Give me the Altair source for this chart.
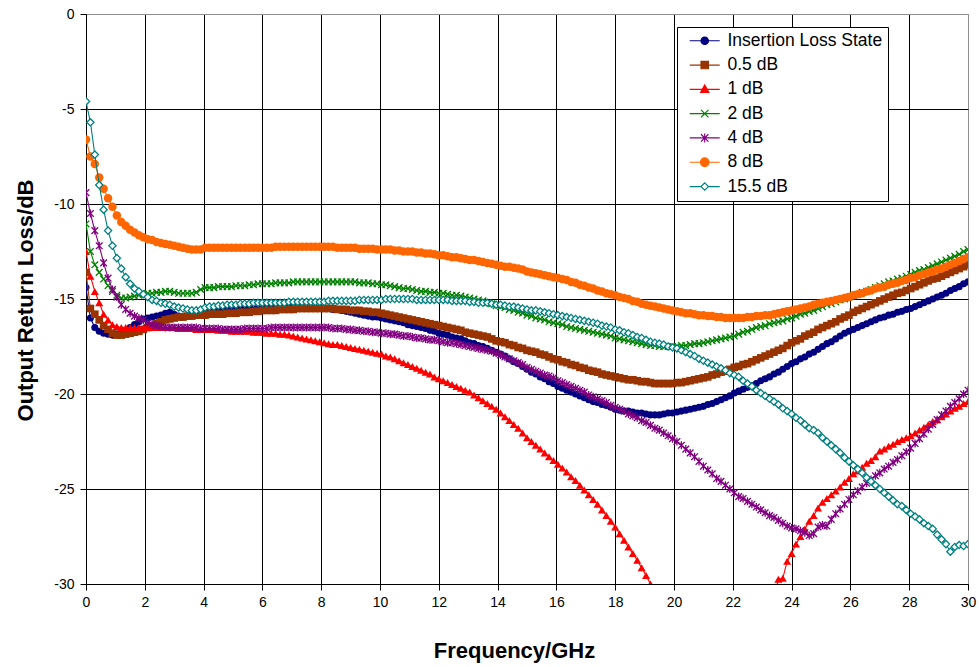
import altair as alt
import pandas as pd

# Frequency sweep (GHz), 0 to 30 in 0.15 GHz steps
freq = [round(0.15 * i, 2) for i in range(201)]

names = ["Insertion Loss State", "0.5 dB", "1 dB", "2 dB", "4 dB", "8 dB", "15.5 dB"]
colors = ["#000080", "#993300", "#FF0000", "#008000", "#800080", "#FF6600", "#008080"]

il_state = [
    -14.4, -16.0, -16.5, -16.7, -16.8, -16.85, -16.9, -16.85, -16.8, -16.65, -16.5, -16.35, -16.2, -16.05, -16.0, -15.95, -15.9, -15.85, -15.75, -15.7,
    -15.8, -15.9, -15.95, -15.9, -15.8, -15.75, -15.7, -15.65, -15.65, -15.6, -15.6, -15.55, -15.55, -15.5, -15.5, -15.5, -15.5, -15.5, -15.5, -15.5,
    -15.5, -15.45, -15.45, -15.45, -15.4, -15.4, -15.4, -15.4, -15.4, -15.45, -15.45, -15.45, -15.5, -15.5, -15.5, -15.5, -15.55, -15.55, -15.6, -15.65,
    -15.7, -15.75, -15.8, -15.85, -15.9, -15.95, -15.95, -16.0, -16.05, -16.1, -16.15, -16.2, -16.25, -16.35, -16.4, -16.45, -16.5, -16.55, -16.65, -16.7,
    -16.8, -16.85, -16.9, -17.0, -17.05, -17.1, -17.2, -17.3, -17.35, -17.45, -17.5, -17.6, -17.7, -17.8, -17.9, -18.0, -18.15, -18.3, -18.4, -18.55,
    -18.7, -18.85, -18.95, -19.1, -19.2, -19.35, -19.45, -19.6, -19.7, -19.8, -19.9, -20.0, -20.1, -20.2, -20.3, -20.4, -20.45, -20.55, -20.6, -20.7,
    -20.8, -20.85, -20.9, -20.9, -20.95, -21.0, -21.0, -21.05, -21.1, -21.1, -21.1, -21.05, -21.0, -21.0, -20.95, -20.9, -20.85, -20.8, -20.75, -20.7,
    -20.65, -20.55, -20.5, -20.4, -20.3, -20.2, -20.1, -19.95, -19.85, -19.75, -19.65, -19.55, -19.45, -19.3, -19.2, -19.1, -18.95, -18.85, -18.7, -18.55,
    -18.4, -18.3, -18.15, -18.05, -17.9, -17.8, -17.65, -17.5, -17.35, -17.25, -17.1, -16.95, -16.8, -16.7, -16.6, -16.5, -16.4, -16.3, -16.2, -16.1,
    -16.0, -15.95, -15.85, -15.8, -15.7, -15.65, -15.55, -15.5, -15.4, -15.3, -15.2, -15.1, -15.0, -14.9, -14.8, -14.7, -14.55, -14.45, -14.35, -14.2,
    -14.1,
]

db_0_5 = [
    -13.6, -15.5, -15.8, -16.1, -16.4, -16.6, -16.8, -16.9, -16.9, -16.85, -16.8, -16.75, -16.7, -16.6, -16.5, -16.4, -16.3, -16.2, -16.1, -16.05,
    -16.0, -15.95, -15.95, -15.9, -15.9, -15.85, -15.85, -15.85, -15.8, -15.8, -15.8, -15.8, -15.75, -15.75, -15.75, -15.7, -15.7, -15.7, -15.65, -15.65,
    -15.6, -15.6, -15.6, -15.6, -15.55, -15.55, -15.55, -15.55, -15.5, -15.5, -15.5, -15.5, -15.5, -15.5, -15.5, -15.5, -15.5, -15.55, -15.55, -15.55,
    -15.6, -15.6, -15.6, -15.65, -15.65, -15.7, -15.7, -15.75, -15.8, -15.85, -15.9, -15.95, -16.0, -16.05, -16.1, -16.15, -16.2, -16.25, -16.3, -16.35,
    -16.4, -16.45, -16.5, -16.55, -16.6, -16.65, -16.75, -16.8, -16.85, -16.9, -16.95, -17.0, -17.1, -17.2, -17.25, -17.3, -17.4, -17.45, -17.55, -17.6,
    -17.7, -17.75, -17.8, -17.9, -17.95, -18.05, -18.15, -18.2, -18.3, -18.35, -18.45, -18.5, -18.6, -18.65, -18.75, -18.8, -18.85, -18.95, -19.0, -19.05,
    -19.1, -19.15, -19.2, -19.25, -19.25, -19.3, -19.35, -19.35, -19.4, -19.45, -19.45, -19.45, -19.45, -19.45, -19.4, -19.4, -19.35, -19.3, -19.25, -19.2,
    -19.15, -19.1, -19.0, -18.95, -18.85, -18.8, -18.7, -18.6, -18.55, -18.45, -18.4, -18.3, -18.2, -18.1, -18.0, -17.9, -17.8, -17.7, -17.6, -17.45,
    -17.3, -17.2, -17.1, -16.95, -16.85, -16.75, -16.6, -16.5, -16.4, -16.3, -16.2, -16.05, -15.95, -15.85, -15.7, -15.6, -15.5, -15.4, -15.3, -15.2,
    -15.1, -15.0, -14.9, -14.8, -14.7, -14.65, -14.55, -14.45, -14.35, -14.25, -14.15, -14.05, -13.95, -13.9, -13.8, -13.7, -13.6, -13.5, -13.4, -13.3,
    -13.2,
]

db_1 = [
    -12.5, -13.8, -14.6, -15.2, -15.8, -16.1, -16.35, -16.45, -16.5, -16.5, -16.5, -16.5, -16.5, -16.5, -16.5, -16.5, -16.5, -16.5, -16.5, -16.5,
    -16.5, -16.55, -16.55, -16.55, -16.55, -16.6, -16.6, -16.6, -16.6, -16.6, -16.65, -16.65, -16.65, -16.7, -16.7, -16.7, -16.7, -16.7, -16.75, -16.75,
    -16.75, -16.8, -16.8, -16.8, -16.85, -16.85, -16.9, -16.95, -17.0, -17.05, -17.1, -17.15, -17.2, -17.25, -17.3, -17.35, -17.4, -17.4, -17.45, -17.5,
    -17.55, -17.6, -17.65, -17.7, -17.75, -17.8, -17.85, -17.9, -18.0, -18.05, -18.15, -18.25, -18.35, -18.45, -18.55, -18.65, -18.75, -18.85, -18.95, -19.1,
    -19.2, -19.3, -19.4, -19.5, -19.6, -19.7, -19.8, -19.9, -20.05, -20.2, -20.35, -20.5, -20.65, -20.8, -21.0, -21.2, -21.4, -21.6, -21.8, -22.05,
    -22.3, -22.5, -22.7, -22.9, -23.1, -23.3, -23.5, -23.7, -23.9, -24.1, -24.35, -24.55, -24.8, -25.05, -25.3, -25.55, -25.8, -26.1, -26.4, -26.7,
    -27.0, -27.35, -27.7, -28.05, -28.4, -28.75, -29.15, -29.55, -30.0, -30.4, -30.8, -31.2, -31.6, -32.0, -32.4, -32.7, -33.0, -33.3, -33.6, -33.9,
    -34.0, -34.1, -34.2, -34.2, -34.2, -34.1, -34.0, -33.8, -33.6, -33.4, -33.2, -33.0, -32.7, -32.4, -32.1, -31.6, -30.8, -29.75, -29.7, -28.8,
    -28.4, -27.9, -27.5, -27.1, -26.7, -26.4, -26.0, -25.7, -25.5, -25.3, -25.1, -24.9, -24.65, -24.45, -24.2, -24.05, -23.85, -23.65, -23.5, -23.3,
    -23.0, -22.9, -22.75, -22.65, -22.5, -22.4, -22.3, -22.2, -22.05, -21.9, -21.75, -21.6, -21.45, -21.35, -21.2, -21.05, -20.9, -20.75, -20.65, -20.5,
    -20.4,
]

db_2 = [
    -11.05, -12.5, -13.2, -13.6, -13.95, -14.3, -14.6, -14.8, -14.95, -14.95, -14.9, -14.85, -14.8, -14.75, -14.7, -14.7, -14.65, -14.65, -14.6, -14.6,
    -14.65, -14.7, -14.7, -14.7, -14.7, -14.65, -14.5, -14.4, -14.4, -14.4, -14.35, -14.35, -14.35, -14.35, -14.3, -14.3, -14.3, -14.25, -14.25, -14.2,
    -14.2, -14.2, -14.2, -14.15, -14.15, -14.15, -14.15, -14.1, -14.1, -14.1, -14.1, -14.1, -14.1, -14.1, -14.1, -14.1, -14.1, -14.1, -14.1, -14.1,
    -14.1, -14.1, -14.15, -14.15, -14.15, -14.2, -14.2, -14.25, -14.25, -14.3, -14.35, -14.4, -14.45, -14.45, -14.5, -14.55, -14.6, -14.6, -14.65, -14.65,
    -14.7, -14.7, -14.75, -14.8, -14.8, -14.85, -14.9, -14.95, -15.0, -15.05, -15.1, -15.2, -15.25, -15.35, -15.4, -15.45, -15.55, -15.6, -15.7, -15.75,
    -15.85, -15.9, -16.0, -16.05, -16.1, -16.2, -16.25, -16.3, -16.35, -16.45, -16.5, -16.55, -16.6, -16.65, -16.7, -16.75, -16.8, -16.85, -16.9, -16.95,
    -17.05, -17.1, -17.15, -17.2, -17.25, -17.3, -17.35, -17.4, -17.45, -17.45, -17.5, -17.5, -17.5, -17.5, -17.5, -17.45, -17.45, -17.4, -17.35, -17.35,
    -17.3, -17.25, -17.2, -17.15, -17.1, -17.05, -17.0, -16.95, -16.85, -16.75, -16.7, -16.6, -16.5, -16.45, -16.4, -16.3, -16.25, -16.2, -16.15, -16.05,
    -16.0, -15.9, -15.8, -15.75, -15.65, -15.6, -15.5, -15.4, -15.3, -15.25, -15.15, -15.05, -15.0, -14.9, -14.8, -14.75, -14.65, -14.6, -14.5, -14.4,
    -14.3, -14.2, -14.1, -14.05, -13.95, -13.9, -13.8, -13.7, -13.6, -13.5, -13.45, -13.35, -13.25, -13.15, -13.05, -12.95, -12.85, -12.75, -12.65, -12.5,
    -12.4,
]

db_4 = [
    -9.4, -10.5, -11.4, -12.2, -13.1, -13.9, -14.5, -14.9, -15.3, -15.55, -15.75, -15.9, -16.0, -16.1, -16.25, -16.35, -16.4, -16.45, -16.5, -16.5,
    -16.5, -16.5, -16.5, -16.5, -16.5, -16.5, -16.55, -16.55, -16.55, -16.55, -16.55, -16.6, -16.6, -16.6, -16.6, -16.6, -16.55, -16.55, -16.55, -16.55,
    -16.55, -16.55, -16.5, -16.5, -16.5, -16.5, -16.5, -16.5, -16.5, -16.5, -16.5, -16.5, -16.5, -16.5, -16.5, -16.5, -16.55, -16.55, -16.55, -16.6,
    -16.6, -16.65, -16.65, -16.7, -16.7, -16.75, -16.75, -16.8, -16.8, -16.85, -16.85, -16.9, -16.95, -16.95, -17.0, -17.05, -17.05, -17.1, -17.15, -17.15,
    -17.2, -17.25, -17.3, -17.3, -17.35, -17.4, -17.45, -17.5, -17.55, -17.6, -17.65, -17.7, -17.75, -17.85, -17.95, -18.05, -18.15, -18.25, -18.35, -18.45,
    -18.6, -18.7, -18.8, -18.9, -19.0, -19.05, -19.15, -19.3, -19.4, -19.5, -19.6, -19.7, -19.8, -19.9, -20.05, -20.15, -20.25, -20.35, -20.45, -20.6,
    -20.7, -20.8, -20.9, -21.05, -21.15, -21.25, -21.4, -21.5, -21.65, -21.8, -21.9, -22.05, -22.2, -22.35, -22.5, -22.7, -22.9, -23.1, -23.3, -23.55,
    -23.8, -24.0, -24.2, -24.45, -24.6, -24.8, -25.0, -25.2, -25.4, -25.5, -25.65, -25.8, -25.95, -26.1, -26.25, -26.4, -26.5, -26.65, -26.8, -26.95,
    -27.05, -27.1, -27.2, -27.3, -27.45, -27.35, -27.0, -26.9, -26.95, -26.6, -26.3, -26.05, -25.8, -25.55, -25.3, -25.1, -24.9, -24.7, -24.5, -24.3,
    -24.15, -23.95, -23.8, -23.6, -23.45, -23.25, -23.05, -22.85, -22.6, -22.35, -22.1, -21.85, -21.6, -21.35, -21.1, -20.9, -20.65, -20.45, -20.25, -20.0,
    -19.8,
]

db_8 = [
    -6.6, -7.5, -7.9, -8.6, -9.2, -9.7, -10.15, -10.6, -10.95, -11.15, -11.35, -11.5, -11.65, -11.75, -11.85, -11.9, -12.0, -12.05, -12.1, -12.15,
    -12.2, -12.25, -12.3, -12.35, -12.4, -12.4, -12.4, -12.3, -12.3, -12.3, -12.3, -12.3, -12.3, -12.3, -12.3, -12.3, -12.3, -12.3, -12.3, -12.3,
    -12.3, -12.3, -12.3, -12.25, -12.25, -12.25, -12.25, -12.25, -12.25, -12.25, -12.25, -12.25, -12.25, -12.25, -12.25, -12.25, -12.25, -12.3, -12.3, -12.3,
    -12.3, -12.3, -12.35, -12.35, -12.35, -12.35, -12.4, -12.4, -12.4, -12.4, -12.45, -12.45, -12.5, -12.5, -12.5, -12.55, -12.55, -12.6, -12.6, -12.65,
    -12.7, -12.7, -12.75, -12.8, -12.8, -12.85, -12.9, -12.95, -12.95, -13.0, -13.05, -13.1, -13.15, -13.2, -13.25, -13.3, -13.3, -13.35, -13.4, -13.45,
    -13.55, -13.6, -13.65, -13.7, -13.75, -13.8, -13.85, -13.9, -13.95, -14.0, -14.1, -14.15, -14.25, -14.3, -14.4, -14.45, -14.55, -14.6, -14.7, -14.75,
    -14.8, -14.9, -14.95, -15.0, -15.1, -15.15, -15.25, -15.3, -15.35, -15.4, -15.45, -15.5, -15.55, -15.6, -15.65, -15.7, -15.75, -15.75, -15.8, -15.85,
    -15.85, -15.9, -15.9, -15.95, -15.95, -16.0, -16.0, -16.0, -16.0, -16.0, -15.95, -15.95, -15.9, -15.9, -15.85, -15.85, -15.8, -15.75, -15.7, -15.65,
    -15.6, -15.55, -15.5, -15.45, -15.4, -15.3, -15.25, -15.2, -15.15, -15.1, -15.05, -15.0, -14.95, -14.9, -14.8, -14.75, -14.7, -14.6, -14.55, -14.45,
    -14.4, -14.35, -14.25, -14.2, -14.15, -14.05, -14.0, -13.9, -13.85, -13.75, -13.7, -13.6, -13.55, -13.45, -13.4, -13.3, -13.2, -13.1, -13.0, -12.9,
    -12.8,
]

db_15_5 = [
    -4.6, -5.7, -7.4, -9.0, -10.3, -11.4, -12.2, -12.85, -13.4, -13.85, -14.2, -14.45, -14.6, -14.75, -14.9, -15.05, -15.1, -15.2, -15.25, -15.3,
    -15.4, -15.45, -15.5, -15.55, -15.6, -15.6, -15.55, -15.45, -15.4, -15.4, -15.35, -15.35, -15.3, -15.3, -15.3, -15.25, -15.25, -15.25, -15.2, -15.2,
    -15.2, -15.2, -15.2, -15.2, -15.2, -15.2, -15.15, -15.15, -15.15, -15.15, -15.15, -15.15, -15.15, -15.15, -15.15, -15.1, -15.1, -15.1, -15.1, -15.1,
    -15.1, -15.1, -15.05, -15.05, -15.05, -15.05, -15.05, -15.05, -15.0, -15.0, -15.0, -15.0, -15.0, -15.0, -15.0, -15.05, -15.05, -15.05, -15.05, -15.05,
    -15.05, -15.05, -15.05, -15.1, -15.1, -15.1, -15.1, -15.15, -15.15, -15.2, -15.2, -15.2, -15.25, -15.3, -15.3, -15.35, -15.4, -15.4, -15.45, -15.5,
    -15.55, -15.6, -15.6, -15.65, -15.7, -15.75, -15.8, -15.85, -15.9, -15.95, -16.0, -16.05, -16.1, -16.15, -16.2, -16.25, -16.3, -16.4, -16.45, -16.5,
    -16.6, -16.65, -16.75, -16.8, -16.9, -17.0, -17.05, -17.15, -17.25, -17.3, -17.35, -17.4, -17.5, -17.55, -17.6, -17.7, -17.8, -17.9, -18.0, -18.15,
    -18.25, -18.35, -18.45, -18.55, -18.65, -18.75, -18.9, -19.0, -19.1, -19.3, -19.45, -19.6, -19.8, -19.95, -20.1, -20.25, -20.4, -20.55, -20.75, -20.9,
    -21.05, -21.25, -21.4, -21.6, -21.8, -21.9, -22.05, -22.3, -22.5, -22.7, -22.9, -23.1, -23.35, -23.55, -23.75, -23.95, -24.15, -24.4, -24.6, -24.8,
    -25.0, -25.2, -25.4, -25.6, -25.8, -25.9, -26.1, -26.3, -26.45, -26.6, -26.8, -26.95, -27.1, -27.4, -27.65, -27.9, -28.3, -28.05, -27.95, -28.0,
    -27.9,
]

series_values = [il_state, db_0_5, db_1, db_2, db_4, db_8, db_15_5]
for vals in series_values:
    assert len(vals) == len(freq)

rows = []
for name, vals in zip(names, series_values):
    for f, v in zip(freq, vals):
        rows.append({"f": f, "v": v, "s": name})
df = pd.DataFrame(rows)

FONT = "Liberation Sans"

x_enc = alt.X(
    "f:Q",
    scale=alt.Scale(domain=[0, 30], nice=False),
    axis=alt.Axis(
        values=list(range(0, 31, 2)),
        title="Frequency/GHz",
        titleFontSize=22, titleFontWeight="bold", titleFont=FONT, titleColor="black",
        titleX=428, titleY=73, titleAlign="center", titleBaseline="alphabetic",
        labelFontSize=14, labelFont=FONT, labelColor="black", labelPadding=5,
        labelFlush=False, labelOverlap=False,
        tickSize=6, tickColor="black", domainColor="black",
        grid=True, gridWidth=1,
        gridColor={"condition": {"test": "datum.value === 30", "value": "#909090"}, "value": "black"},
    ),
)
y_enc = alt.Y(
    "v:Q",
    scale=alt.Scale(domain=[-30, 0], nice=False),
    axis=alt.Axis(
        values=[-30, -25, -20, -15, -10, -5, 0],
        labelExpr="'' + datum.value",
        title="Output Return Loss/dB",
        titleFontSize=22, titleFontWeight="bold", titleFont=FONT, titleColor="black",
        titleAngle=270, titleX=-61, titleY=286, titleAlign="center", titleBaseline="middle",
        labelFontSize=14, labelFont=FONT, labelColor="black", labelPadding=6,
        labelFlush=False, labelOverlap=False,
        tickSize=6, tickColor="black", domainColor="black",
        grid=True, gridWidth=1,
        gridColor={"condition": {"test": "datum.value === 0", "value": "#909090"}, "value": "black"},
    ),
)

XPATH = "M-1,-1L1,1M-1,1L1,-1"
STARPATH = "M-1,-1L1,1M-1,1L1,-1M0,-1.2L0,1.2"

point_styles = [
    dict(shape="circle", size=50, filled=True, color=colors[0]),
    dict(shape="square", size=58, filled=True, color=colors[1]),
    dict(shape="triangle-up", size=65, filled=True, color=colors[2]),
    dict(shape=XPATH, size=44, filled=False, color=colors[3], strokeWidth=1.3),
    dict(shape=STARPATH, size=44, filled=False, color=colors[4], strokeWidth=1.3),
    dict(shape="circle", size=72, filled=True, color=colors[5]),
    dict(shape="diamond", size=52, filled=True, fill="white", stroke=colors[6], strokeWidth=1.3),
]

base = alt.Chart(df)
layers = []
for name, col, ps in zip(names, colors, point_styles):
    sub = base.transform_filter(alt.datum.s == name)
    layers.append(sub.mark_line(color=col, strokeWidth=1.1, clip=True).encode(x=x_enc, y=y_enc))
    layers.append(sub.mark_point(opacity=1, clip=True, **ps).encode(x=x_enc, y=y_enc))

# Legend symbols: short line with the marker in the middle (unit = 6 px)
L, R, M, r = -0.17, 4.83, 2.33, 0.62
def circ(rad):
    return f"M{M-rad},0A{rad},{rad} 0 1,0 {M+rad},0A{rad},{rad} 0 1,0 {M-rad},0Z"
legend_paths = [
    f"M{L},0H{R}" + circ(r),
    f"M{L},0H{R}M{M-r},{-r}H{M+r}V{r}H{M-r}Z",
    f"M{L},0H{R}M{M},{-r*1.15}L{M+r*1.1},{r*0.8}L{M-r*1.1},{r*0.8}Z",
    f"M{L},0H{R}M{M-r},{-r}L{M+r},{r}M{M-r},{r}L{M+r},{-r}",
    f"M{L},0H{R}M{M-r},{-r}L{M+r},{r}M{M-r},{r}L{M+r},{-r}M{M},{-r*1.2}L{M},{r*1.2}",
    f"M{L},0H{R}" + circ(r * 1.15),
    f"M{L},0H{M-r}M{M+r},0H{R}M{M},{-r}L{M+r},0L{M},{r}L{M-r},0Z",
]
legend_fills = [colors[0], colors[1], colors[2], "transparent", "transparent", colors[5], "white"]

legend_layer = base.transform_filter("datum.f < -1").mark_point(
    opacity=1, strokeWidth=1.2, filled=False
).encode(
    x=x_enc, y=y_enc,
    shape=alt.Shape("s:N", scale=alt.Scale(domain=names, range=legend_paths), legend=alt.Legend(title=None)),
    stroke=alt.Stroke("s:N", scale=alt.Scale(domain=names, range=colors), legend=alt.Legend(title=None)),
    fill=alt.Fill("s:N", scale=alt.Scale(domain=names, range=legend_fills), legend=alt.Legend(title=None)),
)
layers.append(legend_layer)

chart = alt.layer(*layers).properties(
    width=882, height=570,
    autosize=alt.AutoSizeParams(type="none"),
    padding={"left": 86, "top": 14, "right": 11, "bottom": 83},
    background="white",
).configure_view(
    stroke="#909090", strokeWidth=1
).configure_legend(
    orient="none", legendX=591, legendY=13,
    padding=5, strokeColor="black", fillColor="white",
    labelFont=FONT, labelFontSize=17.5, labelColor="black", labelLimit=400,
    symbolSize=144, symbolStrokeWidth=1.2, labelOffset=28, rowPadding=5.3,
)

chart.save("out.html", embed_options={"renderer": "svg", "actions": False})
